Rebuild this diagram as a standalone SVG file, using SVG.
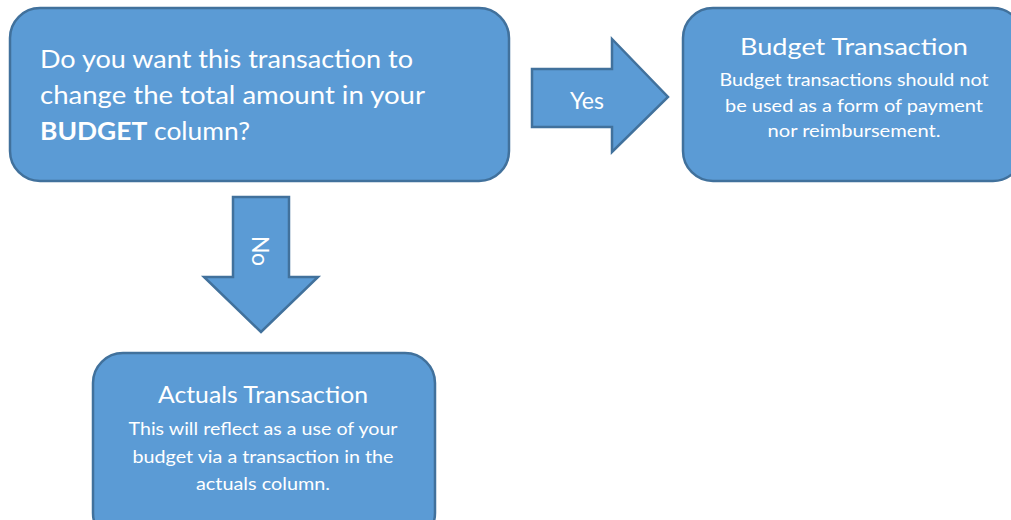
<svg xmlns="http://www.w3.org/2000/svg" width="1011" height="520" viewBox="0 0 1011 520">
<style>
.box{fill:#5B9BD5;stroke:#41719C;stroke-width:2.5}
.arr{fill:#5B9BD5;stroke:#41719C;stroke-width:2.5;stroke-linejoin:miter}
text{font-family:Lato,"Open Sans","Liberation Sans",sans-serif;fill:#FFFFFF}
.q{font-size:25px}
.t{font-size:23px;text-anchor:middle}
.s{font-size:18px;text-anchor:middle}
.l{font-size:23px;text-anchor:middle}
</style>
<rect width="1011" height="520" fill="#FFFFFF"/>
<g id="question">
<rect class="box" x="10" y="8" width="499" height="173" rx="30" ry="30"/>
<text class="q" x="40" y="68" textLength="373" lengthAdjust="spacingAndGlyphs">Do you want this transaction to</text>
<text class="q" x="40" y="104" textLength="385" lengthAdjust="spacingAndGlyphs">change the total amount in your</text>
<text class="q" x="40" y="140" textLength="210" lengthAdjust="spacingAndGlyphs"><tspan font-weight="bold">BUDGET</tspan> column?</text>
</g>
<g id="connectors">
<g id="yes-arrow">
<polygon class="arr" points="532,69 612,69 612,39 668,97 612,152 612,127 532,127"/>
<text class="l" x="587" y="109">Yes</text>
</g>
<g id="no-arrow">
<polygon class="arr" points="233,197 289,197 289,277 318,277 261,332 204,277 233,277"/>
<text class="l" transform="translate(252,251) rotate(90)" x="0" y="0">No</text>
</g>
</g>
<g id="budget-transaction">
<rect class="box" x="683" y="8" width="340" height="173" rx="30" ry="30"/>
<text class="t" x="854" y="55" textLength="228" lengthAdjust="spacingAndGlyphs">Budget Transaction</text>
<text class="s" x="854" y="86" textLength="269" lengthAdjust="spacingAndGlyphs">Budget transactions should not</text>
<text class="s" x="854" y="112" textLength="258" lengthAdjust="spacingAndGlyphs">be used as a form of payment</text>
<text class="s" x="854" y="137" textLength="173" lengthAdjust="spacingAndGlyphs">nor reimbursement.</text>
</g>
<g id="actuals-transaction">
<rect class="box" x="93" y="353" width="342" height="190" rx="30" ry="30"/>
<text class="t" x="263" y="403" textLength="210" lengthAdjust="spacingAndGlyphs">Actuals Transaction</text>
<text class="s" x="263" y="435" textLength="269" lengthAdjust="spacingAndGlyphs">This will reflect as a use of your</text>
<text class="s" x="263" y="463" textLength="261" lengthAdjust="spacingAndGlyphs">budget via a transaction in the</text>
<text class="s" x="263" y="490" textLength="134" lengthAdjust="spacingAndGlyphs">actuals column.</text>
</g>
</svg>
